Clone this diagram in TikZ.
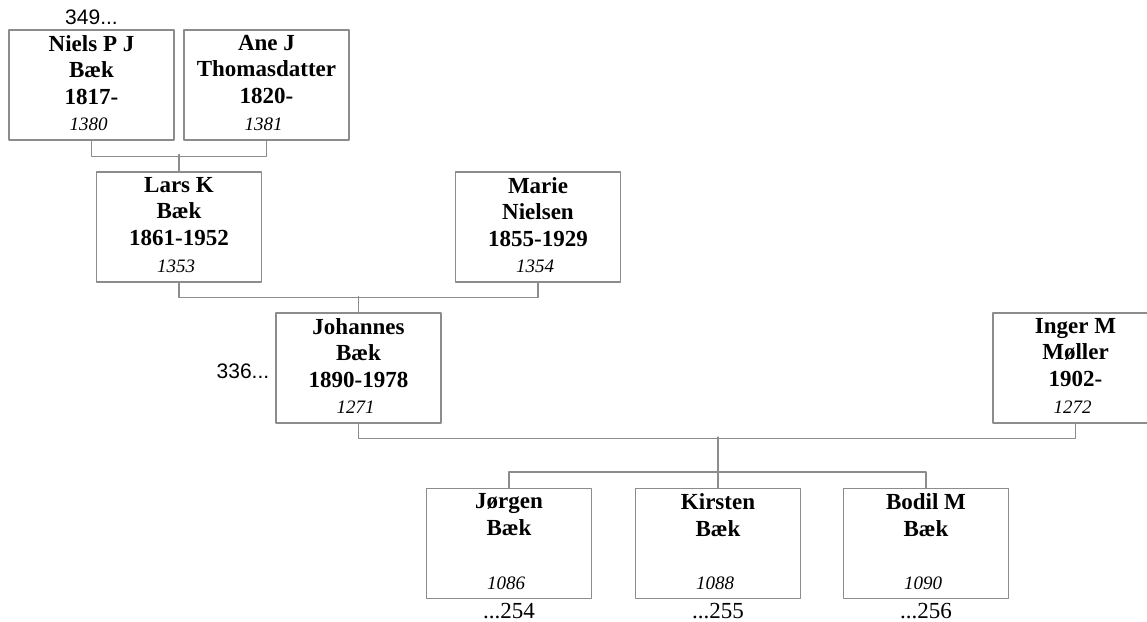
\documentclass[tikz,border=0pt]{standalone}
\usepackage{fontspec}
\setmainfont{Liberation Serif}
\newfontfamily\refsans{Liberation Sans}
\usetikzlibrary{positioning}

\definecolor{famGray}{RGB}{140,140,140}

\begin{document}
\begin{tikzpicture}[x=1pt, y=-1pt, line cap=round, line join=round]

% ---------- styles ----------
\tikzset{
  famBox/.style  ={draw=famGray, line width=1.1pt, minimum width=165pt,
                   minimum height=110pt, inner sep=0pt},
  famName/.style ={anchor=north, align=center, inner sep=0pt,
                   font=\fontsize{23}{26.5}\selectfont\bfseries},
  famId/.style   ={anchor=base, inner sep=0pt,
                   font=\fontsize{19}{22}\selectfont\itshape},
  famLink/.style ={draw=famGray, line width=1.1pt},
  famRefUp/.style={anchor=base, inner sep=0pt,
                   font=\fontsize{21}{24}\selectfont\refsans},
  famRefDn/.style={anchor=base, inner sep=0pt,
                   font=\fontsize{23}{26}\selectfont}
}

\useasboundingbox (0,0) rectangle (1147,621);

% ---------- grandparents ----------
\node[famBox] (niels) at (91.5,85) {};
\node[famName] (niels-name) at ([yshift=-5.5pt]niels.north) {Niels P J\\Bæk\\1817-};
\node[famId] (niels-id) at ([xshift=-3pt,yshift=10pt]niels.south) {1380};
\node[famRefUp] (niels-up) at ([yshift=5pt]niels.north) {349...};

\node[famBox] (ane) at (266.5,85) {};
\node[famName] (ane-name) at ([yshift=-5.5pt]ane.north) {Ane J\\Thomasdatter\\1820-};
\node[famId] (ane-id) at ([xshift=-3pt,yshift=10pt]ane.south) {1381};

% ---------- parents ----------
\node[famBox] (lars) at (179,227) {};
\node[famName] (lars-name) at ([yshift=-5.5pt]lars.north) {Lars K\\Bæk\\1861-1952};
\node[famId] (lars-id) at ([xshift=-3pt,yshift=10pt]lars.south) {1353};

\node[famBox] (marie) at (538,227) {};
\node[famName] (marie-name) at ([yshift=-5.5pt]marie.north) {Marie\\Nielsen\\1855-1929};
\node[famId] (marie-id) at ([xshift=-3pt,yshift=10pt]marie.south) {1354};

% ---------- couple ----------
\node[famBox] (johannes) at (358.5,368) {};
\node[famName] (johannes-name) at ([yshift=-5.5pt]johannes.north) {Johannes\\Bæk\\1890-1978};
\node[famId] (johannes-id) at ([xshift=-3pt,yshift=10pt]johannes.south) {1271};
\node[famRefUp, anchor=base east] (johannes-up) at ([xshift=-6pt,yshift=-10pt]johannes.west) {336...};

\node[famBox] (inger) at (1075.5,368) {};
\node[famName] (inger-name) at ([yshift=-5.5pt]inger.north) {Inger M\\Møller\\1902-};
\node[famId] (inger-id) at ([xshift=-3pt,yshift=10pt]inger.south) {1272};

% ---------- children ----------
\node[famBox] (jorgen) at (509,543.5) {};
\node[famName] (jorgen-name) at ([yshift=-5.5pt]jorgen.north) {Jørgen\\Bæk};
\node[famId] (jorgen-id) at ([xshift=-3pt,yshift=10pt]jorgen.south) {1086};
\node[famRefDn] (jorgen-dn) at ([yshift=-19pt]jorgen.south) {...254};

\node[famBox] (kirsten) at (718,543.5) {};
\node[famName] (kirsten-name) at ([yshift=-5.5pt]kirsten.north) {Kirsten\\Bæk};
\node[famId] (kirsten-id) at ([xshift=-3pt,yshift=10pt]kirsten.south) {1088};
\node[famRefDn] (kirsten-dn) at ([yshift=-19pt]kirsten.south) {...255};

\node[famBox] (bodil) at (926,543.5) {};
\node[famName] (bodil-name) at ([yshift=-5.5pt]bodil.north) {Bodil M\\Bæk};
\node[famId] (bodil-id) at ([xshift=-3pt,yshift=10pt]bodil.south) {1090};
\node[famRefDn] (bodil-dn) at ([yshift=-19pt]bodil.south) {...256};

% ---------- links ----------
\draw[famLink] (niels.south) -- ++(0,16) -| (ane.south);
\draw[famLink] (lars.north) -- ++(0,-17);

\draw[famLink] (lars.south) -- ++(0,15) -| (marie.south);
\draw[famLink] (johannes.north) -- ++(0,-16);

\draw[famLink] (johannes.south) -- ++(0,15) -| (inger.south);
\draw[famLink] (kirsten.north) -- ++(0,-51);
\draw[famLink] (jorgen.north) -- ++(0,-16) -| (bodil.north);

\end{tikzpicture}
\end{document}
